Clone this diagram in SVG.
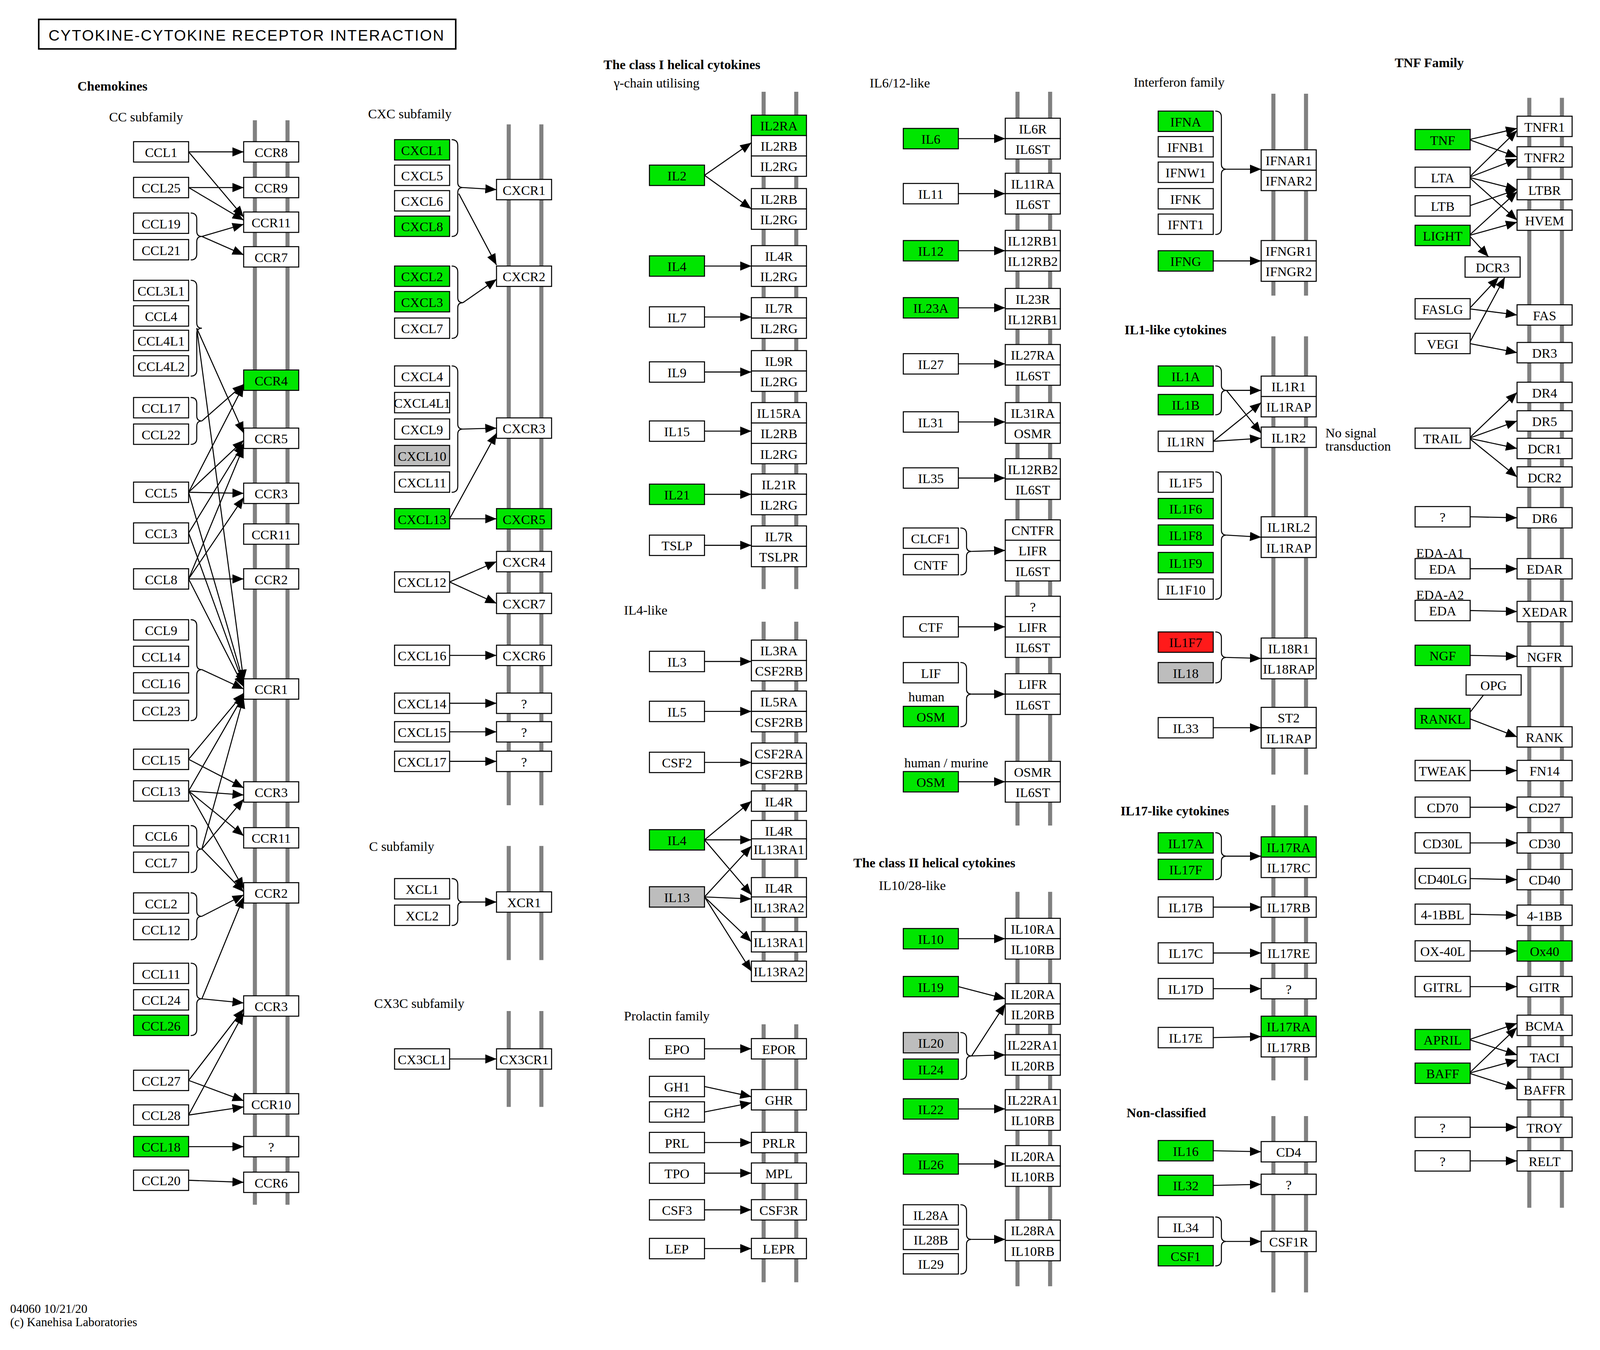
<svg xmlns="http://www.w3.org/2000/svg" xmlns:xlink="http://www.w3.org/1999/xlink" width="4100" height="3457" viewBox="0 0 4100 3457">
<style>
use{fill:#fff;stroke:#000;stroke-width:1}
use.g{fill:#00e600}
use.r{fill:#ff1a1a}
use.y{fill:#bdbdbd}
text{font-family:"Liberation Serif","DejaVu Serif",serif;font-size:13px;fill:#000}
.nd text{text-anchor:middle}
.lb{font-size:13px}
.bd{font-weight:bold}
.bar line{stroke:#808080;stroke-width:4}
.ed path{fill:none;stroke:#000;stroke-width:1;marker-end:url(#a)}
.bk path{fill:none;stroke:#000;stroke-width:1}
</style>
<defs>
<rect id="b" width="54" height="20"/>
<marker id="a" markerWidth="11" markerHeight="9" refX="11" refY="4.5" orient="auto" markerUnits="userSpaceOnUse"><path d="M0,0L11,4.5L0,9z" fill="#000"/></marker>
</defs>
<rect width="4100" height="3457" fill="#fff"/>
<g transform="scale(2.61)">
<g id="title"><rect x="38" y="19" width="409" height="29" fill="#fff" stroke="#000" stroke-width="1.5"/><text x="242" y="40" style="font-family:'Liberation Sans',sans-serif;font-size:15px;letter-spacing:1px;text-anchor:middle">CYTOKINE-CYTOKINE RECEPTOR INTERACTION</text></g>
<g id="labels">
<text x="76" y="89" class="bd">Chemokines</text>
<text x="107" y="119">CC subfamily</text>
<text x="361" y="116">CXC subfamily</text>
<text x="362" y="835">C subfamily</text>
<text x="367" y="989">CX3C subfamily</text>
<text x="592" y="68" class="bd">The class I helical cytokines</text>
<text x="602" y="86">γ-chain utilising</text>
<text x="612" y="603">IL4-like</text>
<text x="612" y="1001">Prolactin family</text>
<text x="853" y="86">IL6/12-like</text>
<text x="891" y="688">human</text>
<text x="887" y="753">human / murine</text>
<text x="837" y="851" class="bd">The class II helical cytokines</text>
<text x="862" y="873">IL10/28-like</text>
<text x="1112" y="85">Interferon family</text>
<text x="1103" y="328" class="bd">IL1-like cytokines</text>
<text x="1300" y="429">No signal</text>
<text x="1300" y="442">transduction</text>
<text x="1099" y="800" class="bd">IL17-like cytokines</text>
<text x="1105" y="1096" class="bd">Non-classified</text>
<text x="1368" y="66" class="bd">TNF Family</text>
<text x="1389" y="547">EDA-A1</text>
<text x="1389" y="588">EDA-A2</text>
<text x="10" y="1288" style="font-size:12px">04060 10/21/20</text>
<text x="10" y="1301" style="font-size:12px">(c) Kanehisa Laboratories</text>
</g>
<g class="bar">
<line x1="250" y1="118" x2="250" y2="1182"/><line x1="282" y1="118" x2="282" y2="1182"/>
<line x1="499" y1="122" x2="499" y2="790"/><line x1="531" y1="122" x2="531" y2="790"/>
<line x1="499" y1="830" x2="499" y2="942"/><line x1="531" y1="830" x2="531" y2="942"/>
<line x1="499" y1="992" x2="499" y2="1086"/><line x1="531" y1="992" x2="531" y2="1086"/>
<line x1="749" y1="90" x2="749" y2="578"/><line x1="781" y1="90" x2="781" y2="578"/>
<line x1="749" y1="610" x2="749" y2="962"/><line x1="781" y1="610" x2="781" y2="962"/>
<line x1="749" y1="1005" x2="749" y2="1258"/><line x1="781" y1="1005" x2="781" y2="1258"/>
<line x1="998" y1="90" x2="998" y2="810"/><line x1="1030" y1="90" x2="1030" y2="810"/>
<line x1="998" y1="875" x2="998" y2="1262"/><line x1="1030" y1="875" x2="1030" y2="1262"/>
<line x1="1249" y1="92" x2="1249" y2="290"/><line x1="1281" y1="92" x2="1281" y2="290"/>
<line x1="1249" y1="330" x2="1249" y2="760"/><line x1="1281" y1="330" x2="1281" y2="760"/>
<line x1="1249" y1="790" x2="1249" y2="1060"/><line x1="1281" y1="790" x2="1281" y2="1060"/>
<line x1="1249" y1="1095" x2="1249" y2="1268"/><line x1="1281" y1="1095" x2="1281" y2="1268"/>
<line x1="1500" y1="96" x2="1500" y2="1185"/><line x1="1532" y1="96" x2="1532" y2="1185"/>
</g>
<g class="bk">
<path d="M187 209Q193 209 193 215V227Q193 232 198 232Q193 232 193 237V249Q193 255 187 255"/>
<path d="M187 275Q193 275 193 281V317Q193 322 198 322Q193 322 193 327V363Q193 369 187 369"/>
<path d="M187 390Q193 390 193 396V408Q193 413 198 413Q193 413 193 418V430Q193 436 187 436"/>
<path d="M187 608Q193 608 193 614V652Q193 657 198 657Q193 657 193 662V701Q193 707 187 707"/>
<path d="M187 810Q193 810 193 816V828Q193 833 198 833Q193 833 193 838V850Q193 856 187 856"/>
<path d="M187 876Q193 876 193 882V894Q193 899 198 899Q193 899 193 904V916Q193 922 187 922"/>
<path d="M187 945Q193 945 193 951V975Q193 980 198 980Q193 980 193 985V1010Q193 1016 187 1016"/>
<path d="M443 137Q449 137 449 143V179Q449 184 454 184Q449 184 449 189V226Q449 232 443 232"/>
<path d="M443 261Q449 261 449 267V292Q449 297 454 297Q449 297 449 302V326Q449 332 443 332"/>
<path d="M443 359Q449 359 449 365V416Q449 421 454 421Q449 421 449 426V477Q449 483 443 483"/>
<path d="M443 862Q449 862 449 868V880Q449 885 454 885Q449 885 449 890V902Q449 908 443 908"/>
<path d="M942 518Q948 518 948 524V536Q948 541 953 541Q948 541 948 546V558Q948 564 942 564"/>
<path d="M942 650Q948 650 948 656V676Q948 681 953 681Q948 681 948 686V707Q948 713 942 713"/>
<path d="M942 1013Q948 1013 948 1019V1031Q948 1036 953 1036Q948 1036 948 1041V1053Q948 1059 942 1059"/>
<path d="M942 1182Q948 1182 948 1188V1211Q948 1216 953 1216Q948 1216 948 1221V1244Q948 1250 942 1250"/>
<path d="M1192 109Q1198 109 1198 115V161Q1198 166 1203 166Q1198 166 1198 171V224Q1198 230 1192 230"/>
<path d="M1192 359Q1198 359 1198 365V378Q1198 383 1203 383Q1198 383 1198 388V401Q1198 407 1192 407"/>
<path d="M1192 463Q1198 463 1198 469V520Q1198 525 1203 525Q1198 525 1198 530V582Q1198 588 1192 588"/>
<path d="M1192 620Q1198 620 1198 626V640Q1198 645 1203 645Q1198 645 1198 650V664Q1198 670 1192 670"/>
<path d="M1192 817Q1198 817 1198 823V835Q1198 840 1203 840Q1198 840 1198 845V857Q1198 863 1192 863"/>
<path d="M1192 1194Q1198 1194 1198 1200V1213Q1198 1218 1203 1218Q1198 1218 1198 1223V1236Q1198 1242 1192 1242"/>
</g>
<g class="ed" id="connectors">
<path d="M185 149L239 149"/><path d="M185 149L239 213"/><path d="M185 184L239 184"/><path d="M185 184L239 216"/>
<path d="M198 232L239 220"/><path d="M198 232L239 250"/><path d="M193 322L239 425"/><path d="M193 322L239 668"/>
<path d="M198 413L239 377"/><path d="M185 483L239 378"/><path d="M185 483L239 432"/><path d="M185 483L239 484"/><path d="M185 483L239 670"/>
<path d="M185 523L239 435"/><path d="M185 523L239 672"/><path d="M185 568L239 438"/><path d="M185 568L239 488"/><path d="M185 568L239 568"/><path d="M185 568L239 674"/>
<path d="M198 657L239 676"/><path d="M185 745L239 680"/><path d="M185 745L239 773"/><path d="M185 776L239 682"/><path d="M185 776L239 780"/><path d="M185 776L239 820"/><path d="M185 776L239 872"/>
<path d="M198 833L239 684"/><path d="M198 833L239 784"/><path d="M198 833L239 875"/><path d="M198 899L239 878"/>
<path d="M198 980L239 984"/><path d="M198 980L239 880"/><path d="M185 1060L239 1080"/><path d="M185 1060L239 990"/><path d="M185 1094L239 1086"/><path d="M185 1094L239 994"/>
<path d="M185 1125L239 1125"/><path d="M185 1158L239 1160"/>
<path d="M454 184L487 186"/><path d="M450 190L487 260"/><path d="M454 297L487 274"/><path d="M454 421L487 420"/>
<path d="M441 509L487 509"/><path d="M441 509L487 425"/><path d="M441 571L487 551"/><path d="M441 571L487 592"/>
<path d="M441 643L487 643"/><path d="M441 690L487 690"/><path d="M441 718L487 718"/><path d="M441 747L487 747"/>
<path d="M454 885L487 885"/><path d="M441 1039L487 1039"/>
<path d="M691 172L737 140"/><path d="M691 172L737 205"/>
<path d="M691 261L737 261"/><path d="M691 311L737 311"/><path d="M691 365L737 365"/><path d="M691 423L737 423"/><path d="M691 485L737 485"/><path d="M691 535L737 535"/>
<path d="M691 649L737 649"/><path d="M691 698L737 698"/><path d="M691 748L737 748"/>
<path d="M691 824L737 786"/><path d="M691 824L737 824"/><path d="M691 824L737 878"/>
<path d="M691 880L737 830"/><path d="M691 880L737 882"/><path d="M691 880L737 924"/><path d="M691 880L737 953"/>
<path d="M691 1029L737 1029"/><path d="M691 1066L737 1076"/><path d="M691 1091L737 1082"/><path d="M691 1121L737 1121"/><path d="M691 1151L737 1151"/><path d="M691 1187L737 1187"/><path d="M691 1225L737 1225"/>
<path d="M940 136L986 136"/><path d="M940 190L986 190"/><path d="M940 246L986 246"/><path d="M940 302L986 302"/><path d="M940 357L986 357"/><path d="M940 414L986 414"/><path d="M940 469L986 469"/>
<path d="M953 541L986 540"/><path d="M940 615L986 615"/><path d="M953 681L986 681"/><path d="M940 767L986 767"/>
<path d="M940 921L986 921"/><path d="M940 968L986 980"/><path d="M953 1036L986 985"/><path d="M953 1036L986 1035"/><path d="M940 1088L986 1088"/><path d="M940 1142L986 1142"/><path d="M953 1216L986 1216"/>
<path d="M1203 166L1237 166"/><path d="M1190 256L1237 256"/>
<path d="M1203 383L1237 383"/><path d="M1203 383L1237 425"/><path d="M1190 433L1237 395"/><path d="M1190 433L1237 430"/>
<path d="M1203 525L1237 527"/><path d="M1203 645L1237 646"/><path d="M1190 714L1237 714"/>
<path d="M1203 840L1237 840"/><path d="M1190 890L1237 890"/><path d="M1190 935L1237 935"/><path d="M1190 970L1237 970"/><path d="M1190 1018L1237 1017"/>
<path d="M1190 1129L1237 1130"/><path d="M1190 1163L1237 1162"/><path d="M1203 1218L1237 1218"/>
<path d="M1441 137L1488 126"/><path d="M1441 137L1488 154"/><path d="M1441 174L1488 128"/><path d="M1441 174L1488 156"/><path d="M1441 174L1488 186"/><path d="M1441 174L1488 216"/>
<path d="M1441 202L1488 186"/><path d="M1441 231L1488 188"/><path d="M1441 231L1488 218"/><path d="M1441 231L1460 252"/>
<path d="M1441 303L1488 309"/><path d="M1441 303L1470 272"/><path d="M1441 337L1488 346"/><path d="M1441 337L1476 272"/>
<path d="M1441 430L1488 385"/><path d="M1441 430L1488 413"/><path d="M1441 430L1488 440"/><path d="M1441 430L1488 468"/>
<path d="M1441 507L1488 508"/><path d="M1441 558L1488 558"/><path d="M1441 599L1488 600"/><path d="M1441 643L1488 644"/>
<path d="M1441 705L1488 723"/><path d="M1441 700L1455 682" style="marker-end:none"/>
<path d="M1441 756L1488 756"/><path d="M1441 792L1488 792"/><path d="M1441 827L1488 827"/><path d="M1441 862L1488 863"/><path d="M1441 897L1488 898"/><path d="M1441 933L1488 933"/><path d="M1441 968L1488 968"/>
<path d="M1441 1020L1488 1004"/><path d="M1441 1020L1488 1035"/><path d="M1441 1053L1488 1008"/><path d="M1441 1053L1488 1040"/><path d="M1441 1053L1488 1068"/>
<path d="M1441 1106L1488 1106"/><path d="M1441 1139L1488 1139"/>
</g>
<g class="nd">
<g id="CCL1"><use href="#b" x="131" y="139"/><text x="158" y="154">CCL1</text></g>
<g id="CCL25"><use href="#b" x="131" y="174"/><text x="158" y="189">CCL25</text></g>
<g id="CCL19"><use href="#b" x="131" y="209"/><text x="158" y="224">CCL19</text></g>
<g id="CCL21"><use href="#b" x="131" y="235"/><text x="158" y="250">CCL21</text></g>
<g id="CCL3L1"><use href="#b" x="131" y="275"/><text x="158" y="290">CCL3L1</text></g>
<g id="CCL4"><use href="#b" x="131" y="300"/><text x="158" y="315">CCL4</text></g>
<g id="CCL4L1"><use href="#b" x="131" y="324"/><text x="158" y="339">CCL4L1</text></g>
<g id="CCL4L2"><use href="#b" x="131" y="349"/><text x="158" y="364">CCL4L2</text></g>
<g id="CCL17"><use href="#b" x="131" y="390"/><text x="158" y="405">CCL17</text></g>
<g id="CCL22"><use href="#b" x="131" y="416"/><text x="158" y="431">CCL22</text></g>
<g id="CCL5"><use href="#b" x="131" y="473"/><text x="158" y="488">CCL5</text></g>
<g id="CCL3"><use href="#b" x="131" y="513"/><text x="158" y="528">CCL3</text></g>
<g id="CCL8"><use href="#b" x="131" y="558"/><text x="158" y="573">CCL8</text></g>
<g id="CCL9"><use href="#b" x="131" y="608"/><text x="158" y="623">CCL9</text></g>
<g id="CCL14"><use href="#b" x="131" y="634"/><text x="158" y="649">CCL14</text></g>
<g id="CCL16"><use href="#b" x="131" y="660"/><text x="158" y="675">CCL16</text></g>
<g id="CCL23"><use href="#b" x="131" y="687"/><text x="158" y="702">CCL23</text></g>
<g id="CCL15"><use href="#b" x="131" y="735"/><text x="158" y="750">CCL15</text></g>
<g id="CCL13"><use href="#b" x="131" y="766"/><text x="158" y="781">CCL13</text></g>
<g id="CCL6"><use href="#b" x="131" y="810"/><text x="158" y="825">CCL6</text></g>
<g id="CCL7"><use href="#b" x="131" y="836"/><text x="158" y="851">CCL7</text></g>
<g id="CCL2"><use href="#b" x="131" y="876"/><text x="158" y="891">CCL2</text></g>
<g id="CCL12"><use href="#b" x="131" y="902"/><text x="158" y="917">CCL12</text></g>
<g id="CCL11"><use href="#b" x="131" y="945"/><text x="158" y="960">CCL11</text></g>
<g id="CCL24"><use href="#b" x="131" y="971"/><text x="158" y="986">CCL24</text></g>
<g id="CCL26"><use href="#b" class="g" x="131" y="996"/><text x="158" y="1011">CCL26</text></g>
<g id="CCL27"><use href="#b" x="131" y="1050"/><text x="158" y="1065">CCL27</text></g>
<g id="CCL28"><use href="#b" x="131" y="1084"/><text x="158" y="1099">CCL28</text></g>
<g id="CCL18"><use href="#b" class="g" x="131" y="1115"/><text x="158" y="1130">CCL18</text></g>
<g id="CCL20"><use href="#b" x="131" y="1148"/><text x="158" y="1163">CCL20</text></g>
<g id="CCR8"><use href="#b" x="239" y="139"/><text x="266" y="154">CCR8</text></g>
<g id="CCR9"><use href="#b" x="239" y="174"/><text x="266" y="189">CCR9</text></g>
<g id="CCR11a"><use href="#b" x="239" y="208"/><text x="266" y="223">CCR11</text></g>
<g id="CCR7"><use href="#b" x="239" y="242"/><text x="266" y="257">CCR7</text></g>
<g id="CCR4"><use href="#b" class="g" x="239" y="363"/><text x="266" y="378">CCR4</text></g>
<g id="CCR5"><use href="#b" x="239" y="420"/><text x="266" y="435">CCR5</text></g>
<g id="CCR3a"><use href="#b" x="239" y="474"/><text x="266" y="489">CCR3</text></g>
<g id="CCR11b"><use href="#b" x="239" y="514"/><text x="266" y="529">CCR11</text></g>
<g id="CCR2a"><use href="#b" x="239" y="558"/><text x="266" y="573">CCR2</text></g>
<g id="CCR1"><use href="#b" x="239" y="666"/><text x="266" y="681">CCR1</text></g>
<g id="CCR3b"><use href="#b" x="239" y="767"/><text x="266" y="782">CCR3</text></g>
<g id="CCR11c"><use href="#b" x="239" y="812"/><text x="266" y="827">CCR11</text></g>
<g id="CCR2b"><use href="#b" x="239" y="866"/><text x="266" y="881">CCR2</text></g>
<g id="CCR3c"><use href="#b" x="239" y="977"/><text x="266" y="992">CCR3</text></g>
<g id="CCR10"><use href="#b" x="239" y="1073"/><text x="266" y="1088">CCR10</text></g>
<g id="CCRq"><use href="#b" x="239" y="1115"/><text x="266" y="1130">?</text></g>
<g id="CCR6"><use href="#b" x="239" y="1150"/><text x="266" y="1165">CCR6</text></g>
<g id="CXCL1"><use href="#b" class="g" x="387" y="137"/><text x="414" y="152">CXCL1</text></g>
<g id="CXCL5"><use href="#b" x="387" y="162"/><text x="414" y="177">CXCL5</text></g>
<g id="CXCL6"><use href="#b" x="387" y="187"/><text x="414" y="202">CXCL6</text></g>
<g id="CXCL8"><use href="#b" class="g" x="387" y="212"/><text x="414" y="227">CXCL8</text></g>
<g id="CXCL2"><use href="#b" class="g" x="387" y="261"/><text x="414" y="276">CXCL2</text></g>
<g id="CXCL3"><use href="#b" class="g" x="387" y="286"/><text x="414" y="301">CXCL3</text></g>
<g id="CXCL7"><use href="#b" x="387" y="312"/><text x="414" y="327">CXCL7</text></g>
<g id="CXCL4"><use href="#b" x="387" y="359"/><text x="414" y="374">CXCL4</text></g>
<g id="CXCL4L1"><use href="#b" x="387" y="385"/><text x="414" y="400">CXCL4L1</text></g>
<g id="CXCL9"><use href="#b" x="387" y="411"/><text x="414" y="426">CXCL9</text></g>
<g id="CXCL10"><use href="#b" class="y" x="387" y="437"/><text x="414" y="452">CXCL10</text></g>
<g id="CXCL11"><use href="#b" x="387" y="463"/><text x="414" y="478">CXCL11</text></g>
<g id="CXCL13"><use href="#b" class="g" x="387" y="499"/><text x="414" y="514">CXCL13</text></g>
<g id="CXCL12"><use href="#b" x="387" y="561"/><text x="414" y="576">CXCL12</text></g>
<g id="CXCL16"><use href="#b" x="387" y="633"/><text x="414" y="648">CXCL16</text></g>
<g id="CXCL14"><use href="#b" x="387" y="680"/><text x="414" y="695">CXCL14</text></g>
<g id="CXCL15"><use href="#b" x="387" y="708"/><text x="414" y="723">CXCL15</text></g>
<g id="CXCL17"><use href="#b" x="387" y="737"/><text x="414" y="752">CXCL17</text></g>
<g id="CXCR1"><use href="#b" x="487" y="176"/><text x="514" y="191">CXCR1</text></g>
<g id="CXCR2"><use href="#b" x="487" y="261"/><text x="514" y="276">CXCR2</text></g>
<g id="CXCR3"><use href="#b" x="487" y="410"/><text x="514" y="425">CXCR3</text></g>
<g id="CXCR5"><use href="#b" class="g" x="487" y="499"/><text x="514" y="514">CXCR5</text></g>
<g id="CXCR4"><use href="#b" x="487" y="541"/><text x="514" y="556">CXCR4</text></g>
<g id="CXCR7"><use href="#b" x="487" y="582"/><text x="514" y="597">CXCR7</text></g>
<g id="CXCR6"><use href="#b" x="487" y="633"/><text x="514" y="648">CXCR6</text></g>
<g id="CXq1"><use href="#b" x="487" y="680"/><text x="514" y="695">?</text></g>
<g id="CXq2"><use href="#b" x="487" y="708"/><text x="514" y="723">?</text></g>
<g id="CXq3"><use href="#b" x="487" y="737"/><text x="514" y="752">?</text></g>
<g id="XCL1"><use href="#b" x="387" y="862"/><text x="414" y="877">XCL1</text></g>
<g id="XCL2"><use href="#b" x="387" y="888"/><text x="414" y="903">XCL2</text></g>
<g id="XCR1"><use href="#b" x="487" y="875"/><text x="514" y="890">XCR1</text></g>
<g id="CX3CL1"><use href="#b" x="387" y="1029"/><text x="414" y="1044">CX3CL1</text></g>
<g id="CX3CR1"><use href="#b" x="487" y="1029"/><text x="514" y="1044">CX3CR1</text></g>
<g id="IL2"><use href="#b" class="g" x="637" y="162"/><text x="664" y="177">IL2</text></g>
<g id="IL4a"><use href="#b" class="g" x="637" y="251"/><text x="664" y="266">IL4</text></g>
<g id="IL7"><use href="#b" x="637" y="301"/><text x="664" y="316">IL7</text></g>
<g id="IL9"><use href="#b" x="637" y="355"/><text x="664" y="370">IL9</text></g>
<g id="IL15"><use href="#b" x="637" y="413"/><text x="664" y="428">IL15</text></g>
<g id="IL21"><use href="#b" class="g" x="637" y="475"/><text x="664" y="490">IL21</text></g>
<g id="TSLP"><use href="#b" x="637" y="525"/><text x="664" y="540">TSLP</text></g>
<g id="IL3"><use href="#b" x="637" y="639"/><text x="664" y="654">IL3</text></g>
<g id="IL5"><use href="#b" x="637" y="688"/><text x="664" y="703">IL5</text></g>
<g id="CSF2"><use href="#b" x="637" y="738"/><text x="664" y="753">CSF2</text></g>
<g id="IL4b"><use href="#b" class="g" x="637" y="814"/><text x="664" y="829">IL4</text></g>
<g id="IL13"><use href="#b" class="y" x="637" y="870"/><text x="664" y="885">IL13</text></g>
<g id="EPO"><use href="#b" x="637" y="1019"/><text x="664" y="1034">EPO</text></g>
<g id="GH1"><use href="#b" x="637" y="1056"/><text x="664" y="1071">GH1</text></g>
<g id="GH2"><use href="#b" x="637" y="1081"/><text x="664" y="1096">GH2</text></g>
<g id="PRL"><use href="#b" x="637" y="1111"/><text x="664" y="1126">PRL</text></g>
<g id="TPO"><use href="#b" x="637" y="1141"/><text x="664" y="1156">TPO</text></g>
<g id="CSF3"><use href="#b" x="637" y="1177"/><text x="664" y="1192">CSF3</text></g>
<g id="LEP"><use href="#b" x="637" y="1215"/><text x="664" y="1230">LEP</text></g>
<g id="IL2R"><use href="#b" class="g" x="737" y="113"/><text x="764" y="128">IL2RA</text><use href="#b" x="737" y="133"/><text x="764" y="148">IL2RB</text><use href="#b" x="737" y="153"/><text x="764" y="168">IL2RG</text></g>
<g id="IL2Rb"><use href="#b" x="737" y="185"/><text x="764" y="200">IL2RB</text><use href="#b" x="737" y="205"/><text x="764" y="220">IL2RG</text></g>
<g id="IL4R1"><use href="#b" x="737" y="241"/><text x="764" y="256">IL4R</text><use href="#b" x="737" y="261"/><text x="764" y="276">IL2RG</text></g>
<g id="IL7R"><use href="#b" x="737" y="292"/><text x="764" y="307">IL7R</text><use href="#b" x="737" y="312"/><text x="764" y="327">IL2RG</text></g>
<g id="IL9R"><use href="#b" x="737" y="344"/><text x="764" y="359">IL9R</text><use href="#b" x="737" y="364"/><text x="764" y="379">IL2RG</text></g>
<g id="IL15R"><use href="#b" x="737" y="395"/><text x="764" y="410">IL15RA</text><use href="#b" x="737" y="415"/><text x="764" y="430">IL2RB</text><use href="#b" x="737" y="435"/><text x="764" y="450">IL2RG</text></g>
<g id="IL21R"><use href="#b" x="737" y="465"/><text x="764" y="480">IL21R</text><use href="#b" x="737" y="485"/><text x="764" y="500">IL2RG</text></g>
<g id="TSLPR"><use href="#b" x="737" y="516"/><text x="764" y="531">IL7R</text><use href="#b" x="737" y="536"/><text x="764" y="551">TSLPR</text></g>
<g id="IL3R"><use href="#b" x="737" y="628"/><text x="764" y="643">IL3RA</text><use href="#b" x="737" y="648"/><text x="764" y="663">CSF2RB</text></g>
<g id="IL5R"><use href="#b" x="737" y="678"/><text x="764" y="693">IL5RA</text><use href="#b" x="737" y="698"/><text x="764" y="713">CSF2RB</text></g>
<g id="CSF2R"><use href="#b" x="737" y="729"/><text x="764" y="744">CSF2RA</text><use href="#b" x="737" y="749"/><text x="764" y="764">CSF2RB</text></g>
<g id="IL4R2"><use href="#b" x="737" y="776"/><text x="764" y="791">IL4R</text></g>
<g id="IL4R3"><use href="#b" x="737" y="805"/><text x="764" y="820">IL4R</text><use href="#b" x="737" y="823"/><text x="764" y="838">IL13RA1</text></g>
<g id="IL4R4"><use href="#b" x="737" y="861"/><text x="764" y="876">IL4R</text><use href="#b" x="737" y="880"/><text x="764" y="895">IL13RA2</text></g>
<g id="IL13RA1"><use href="#b" x="737" y="914"/><text x="764" y="929">IL13RA1</text></g>
<g id="IL13RA2"><use href="#b" x="737" y="943"/><text x="764" y="958">IL13RA2</text></g>
<g id="EPOR"><use href="#b" x="737" y="1019"/><text x="764" y="1034">EPOR</text></g>
<g id="GHR"><use href="#b" x="737" y="1069"/><text x="764" y="1084">GHR</text></g>
<g id="PRLR"><use href="#b" x="737" y="1111"/><text x="764" y="1126">PRLR</text></g>
<g id="MPL"><use href="#b" x="737" y="1141"/><text x="764" y="1156">MPL</text></g>
<g id="CSF3R"><use href="#b" x="737" y="1177"/><text x="764" y="1192">CSF3R</text></g>
<g id="LEPR"><use href="#b" x="737" y="1215"/><text x="764" y="1230">LEPR</text></g>
<g id="IL6"><use href="#b" class="g" x="886" y="126"/><text x="913" y="141">IL6</text></g>
<g id="IL11"><use href="#b" x="886" y="180"/><text x="913" y="195">IL11</text></g>
<g id="IL12"><use href="#b" class="g" x="886" y="236"/><text x="913" y="251">IL12</text></g>
<g id="IL23A"><use href="#b" class="g" x="886" y="292"/><text x="913" y="307">IL23A</text></g>
<g id="IL27"><use href="#b" x="886" y="347"/><text x="913" y="362">IL27</text></g>
<g id="IL31"><use href="#b" x="886" y="404"/><text x="913" y="419">IL31</text></g>
<g id="IL35"><use href="#b" x="886" y="459"/><text x="913" y="474">IL35</text></g>
<g id="CLCF1"><use href="#b" x="886" y="518"/><text x="913" y="533">CLCF1</text></g>
<g id="CNTF"><use href="#b" x="886" y="544"/><text x="913" y="559">CNTF</text></g>
<g id="CTF"><use href="#b" x="886" y="605"/><text x="913" y="620">CTF</text></g>
<g id="LIF"><use href="#b" x="886" y="650"/><text x="913" y="665">LIF</text></g>
<g id="OSMa"><use href="#b" class="g" x="886" y="693"/><text x="913" y="708">OSM</text></g>
<g id="OSMb"><use href="#b" class="g" x="886" y="757"/><text x="913" y="772">OSM</text></g>
<g id="IL10"><use href="#b" class="g" x="886" y="911"/><text x="913" y="926">IL10</text></g>
<g id="IL19"><use href="#b" class="g" x="886" y="958"/><text x="913" y="973">IL19</text></g>
<g id="IL20"><use href="#b" class="y" x="886" y="1013"/><text x="913" y="1028">IL20</text></g>
<g id="IL24"><use href="#b" class="g" x="886" y="1039"/><text x="913" y="1054">IL24</text></g>
<g id="IL22"><use href="#b" class="g" x="886" y="1078"/><text x="913" y="1093">IL22</text></g>
<g id="IL26"><use href="#b" class="g" x="886" y="1132"/><text x="913" y="1147">IL26</text></g>
<g id="IL28A"><use href="#b" x="886" y="1182"/><text x="913" y="1197">IL28A</text></g>
<g id="IL28B"><use href="#b" x="886" y="1206"/><text x="913" y="1221">IL28B</text></g>
<g id="IL29"><use href="#b" x="886" y="1230"/><text x="913" y="1245">IL29</text></g>
<g id="IL6R"><use href="#b" x="986" y="116"/><text x="1013" y="131">IL6R</text><use href="#b" x="986" y="136"/><text x="1013" y="151">IL6ST</text></g>
<g id="IL11R"><use href="#b" x="986" y="170"/><text x="1013" y="185">IL11RA</text><use href="#b" x="986" y="190"/><text x="1013" y="205">IL6ST</text></g>
<g id="IL12R"><use href="#b" x="986" y="226"/><text x="1013" y="241">IL12RB1</text><use href="#b" x="986" y="246"/><text x="1013" y="261">IL12RB2</text></g>
<g id="IL23R"><use href="#b" x="986" y="283"/><text x="1013" y="298">IL23R</text><use href="#b" x="986" y="303"/><text x="1013" y="318">IL12RB1</text></g>
<g id="IL27R"><use href="#b" x="986" y="338"/><text x="1013" y="353">IL27RA</text><use href="#b" x="986" y="358"/><text x="1013" y="373">IL6ST</text></g>
<g id="IL31R"><use href="#b" x="986" y="395"/><text x="1013" y="410">IL31RA</text><use href="#b" x="986" y="415"/><text x="1013" y="430">OSMR</text></g>
<g id="IL35R"><use href="#b" x="986" y="450"/><text x="1013" y="465">IL12RB2</text><use href="#b" x="986" y="470"/><text x="1013" y="485">IL6ST</text></g>
<g id="CNTFR"><use href="#b" x="986" y="510"/><text x="1013" y="525">CNTFR</text><use href="#b" x="986" y="530"/><text x="1013" y="545">LIFR</text><use href="#b" x="986" y="550"/><text x="1013" y="565">IL6ST</text></g>
<g id="CTFR"><use href="#b" x="986" y="585"/><text x="1013" y="600">?</text><use href="#b" x="986" y="605"/><text x="1013" y="620">LIFR</text><use href="#b" x="986" y="625"/><text x="1013" y="640">IL6ST</text></g>
<g id="LIFR"><use href="#b" x="986" y="661"/><text x="1013" y="676">LIFR</text><use href="#b" x="986" y="681"/><text x="1013" y="696">IL6ST</text></g>
<g id="OSMR"><use href="#b" x="986" y="747"/><text x="1013" y="762">OSMR</text><use href="#b" x="986" y="767"/><text x="1013" y="782">IL6ST</text></g>
<g id="IL10R"><use href="#b" x="986" y="901"/><text x="1013" y="916">IL10RA</text><use href="#b" x="986" y="921"/><text x="1013" y="936">IL10RB</text></g>
<g id="IL20R"><use href="#b" x="986" y="965"/><text x="1013" y="980">IL20RA</text><use href="#b" x="986" y="985"/><text x="1013" y="1000">IL20RB</text></g>
<g id="IL22R1"><use href="#b" x="986" y="1015"/><text x="1013" y="1030">IL22RA1</text><use href="#b" x="986" y="1035"/><text x="1013" y="1050">IL20RB</text></g>
<g id="IL22R2"><use href="#b" x="986" y="1069"/><text x="1013" y="1084">IL22RA1</text><use href="#b" x="986" y="1089"/><text x="1013" y="1104">IL10RB</text></g>
<g id="IL26R"><use href="#b" x="986" y="1124"/><text x="1013" y="1139">IL20RA</text><use href="#b" x="986" y="1144"/><text x="1013" y="1159">IL10RB</text></g>
<g id="IL28R"><use href="#b" x="986" y="1197"/><text x="1013" y="1212">IL28RA</text><use href="#b" x="986" y="1217"/><text x="1013" y="1232">IL10RB</text></g>
<g id="IFNA"><use href="#b" class="g" x="1136" y="109"/><text x="1163" y="124">IFNA</text></g>
<g id="IFNB1"><use href="#b" x="1136" y="134"/><text x="1163" y="149">IFNB1</text></g>
<g id="IFNW1"><use href="#b" x="1136" y="159"/><text x="1163" y="174">IFNW1</text></g>
<g id="IFNK"><use href="#b" x="1136" y="185"/><text x="1163" y="200">IFNK</text></g>
<g id="IFNT1"><use href="#b" x="1136" y="210"/><text x="1163" y="225">IFNT1</text></g>
<g id="IFNG"><use href="#b" class="g" x="1136" y="246"/><text x="1163" y="261">IFNG</text></g>
<g id="IL1A"><use href="#b" class="g" x="1136" y="359"/><text x="1163" y="374">IL1A</text></g>
<g id="IL1B"><use href="#b" class="g" x="1136" y="387"/><text x="1163" y="402">IL1B</text></g>
<g id="IL1RN"><use href="#b" x="1136" y="423"/><text x="1163" y="438">IL1RN</text></g>
<g id="IL1F5"><use href="#b" x="1136" y="463"/><text x="1163" y="478">IL1F5</text></g>
<g id="IL1F6"><use href="#b" class="g" x="1136" y="489"/><text x="1163" y="504">IL1F6</text></g>
<g id="IL1F8"><use href="#b" class="g" x="1136" y="515"/><text x="1163" y="530">IL1F8</text></g>
<g id="IL1F9"><use href="#b" class="g" x="1136" y="542"/><text x="1163" y="557">IL1F9</text></g>
<g id="IL1F10"><use href="#b" x="1136" y="568"/><text x="1163" y="583">IL1F10</text></g>
<g id="IL1F7"><use href="#b" class="r" x="1136" y="620"/><text x="1163" y="635">IL1F7</text></g>
<g id="IL18"><use href="#b" class="y" x="1136" y="650"/><text x="1163" y="665">IL18</text></g>
<g id="IL33"><use href="#b" x="1136" y="704"/><text x="1163" y="719">IL33</text></g>
<g id="IL17A"><use href="#b" class="g" x="1136" y="817"/><text x="1163" y="832">IL17A</text></g>
<g id="IL17F"><use href="#b" class="g" x="1136" y="843"/><text x="1163" y="858">IL17F</text></g>
<g id="IL17B"><use href="#b" x="1136" y="880"/><text x="1163" y="895">IL17B</text></g>
<g id="IL17C"><use href="#b" x="1136" y="925"/><text x="1163" y="940">IL17C</text></g>
<g id="IL17D"><use href="#b" x="1136" y="960"/><text x="1163" y="975">IL17D</text></g>
<g id="IL17E"><use href="#b" x="1136" y="1008"/><text x="1163" y="1023">IL17E</text></g>
<g id="IL16"><use href="#b" class="g" x="1136" y="1119"/><text x="1163" y="1134">IL16</text></g>
<g id="IL32"><use href="#b" class="g" x="1136" y="1153"/><text x="1163" y="1168">IL32</text></g>
<g id="IL34"><use href="#b" x="1136" y="1194"/><text x="1163" y="1209">IL34</text></g>
<g id="CSF1"><use href="#b" class="g" x="1136" y="1222"/><text x="1163" y="1237">CSF1</text></g>
<g id="IFNAR"><use href="#b" x="1237" y="147"/><text x="1264" y="162">IFNAR1</text><use href="#b" x="1237" y="167"/><text x="1264" y="182">IFNAR2</text></g>
<g id="IFNGR"><use href="#b" x="1237" y="236"/><text x="1264" y="251">IFNGR1</text><use href="#b" x="1237" y="256"/><text x="1264" y="271">IFNGR2</text></g>
<g id="IL1R1"><use href="#b" x="1237" y="369"/><text x="1264" y="384">IL1R1</text><use href="#b" x="1237" y="389"/><text x="1264" y="404">IL1RAP</text></g>
<g id="IL1R2"><use href="#b" x="1237" y="419"/><text x="1264" y="434">IL1R2</text></g>
<g id="IL1RL2"><use href="#b" x="1237" y="507"/><text x="1264" y="522">IL1RL2</text><use href="#b" x="1237" y="527"/><text x="1264" y="542">IL1RAP</text></g>
<g id="IL18R"><use href="#b" x="1237" y="626"/><text x="1264" y="641">IL18R1</text><use href="#b" x="1237" y="646"/><text x="1264" y="661">IL18RAP</text></g>
<g id="ST2"><use href="#b" x="1237" y="694"/><text x="1264" y="709">ST2</text><use href="#b" x="1237" y="714"/><text x="1264" y="729">IL1RAP</text></g>
<g id="IL17RA1"><use href="#b" class="g" x="1237" y="821"/><text x="1264" y="836">IL17RA</text><use href="#b" x="1237" y="841"/><text x="1264" y="856">IL17RC</text></g>
<g id="IL17RB"><use href="#b" x="1237" y="880"/><text x="1264" y="895">IL17RB</text></g>
<g id="IL17RE"><use href="#b" x="1237" y="925"/><text x="1264" y="940">IL17RE</text></g>
<g id="IL17Rq"><use href="#b" x="1237" y="960"/><text x="1264" y="975">?</text></g>
<g id="IL17RA2"><use href="#b" class="g" x="1237" y="997"/><text x="1264" y="1012">IL17RA</text><use href="#b" x="1237" y="1017"/><text x="1264" y="1032">IL17RB</text></g>
<g id="CD4"><use href="#b" x="1237" y="1120"/><text x="1264" y="1135">CD4</text></g>
<g id="IL32R"><use href="#b" x="1237" y="1152"/><text x="1264" y="1167">?</text></g>
<g id="CSF1R"><use href="#b" x="1237" y="1208"/><text x="1264" y="1223">CSF1R</text></g>
<g id="TNF"><use href="#b" class="g" x="1388" y="127"/><text x="1415" y="142">TNF</text></g>
<g id="LTA"><use href="#b" x="1388" y="164"/><text x="1415" y="179">LTA</text></g>
<g id="LTB"><use href="#b" x="1388" y="192"/><text x="1415" y="207">LTB</text></g>
<g id="LIGHT"><use href="#b" class="g" x="1388" y="221"/><text x="1415" y="236">LIGHT</text></g>
<g id="FASLG"><use href="#b" x="1388" y="293"/><text x="1415" y="308">FASLG</text></g>
<g id="VEGI"><use href="#b" x="1388" y="327"/><text x="1415" y="342">VEGI</text></g>
<g id="TRAIL"><use href="#b" x="1388" y="420"/><text x="1415" y="435">TRAIL</text></g>
<g id="TNFq1"><use href="#b" x="1388" y="497"/><text x="1415" y="512">?</text></g>
<g id="EDA1"><use href="#b" x="1388" y="548"/><text x="1415" y="563">EDA</text></g>
<g id="EDA2"><use href="#b" x="1388" y="589"/><text x="1415" y="604">EDA</text></g>
<g id="NGF"><use href="#b" class="g" x="1388" y="633"/><text x="1415" y="648">NGF</text></g>
<g id="OPG"><use href="#b" x="1438" y="662"/><text x="1465" y="677">OPG</text></g>
<g id="RANKL"><use href="#b" class="g" x="1388" y="695"/><text x="1415" y="710">RANKL</text></g>
<g id="TWEAK"><use href="#b" x="1388" y="746"/><text x="1415" y="761">TWEAK</text></g>
<g id="CD70"><use href="#b" x="1388" y="782"/><text x="1415" y="797">CD70</text></g>
<g id="CD30L"><use href="#b" x="1388" y="817"/><text x="1415" y="832">CD30L</text></g>
<g id="CD40LG"><use href="#b" x="1388" y="852"/><text x="1415" y="867">CD40LG</text></g>
<g id="4-1BBL"><use href="#b" x="1388" y="887"/><text x="1415" y="902">4-1BBL</text></g>
<g id="OX-40L"><use href="#b" x="1388" y="923"/><text x="1415" y="938">OX-40L</text></g>
<g id="GITRL"><use href="#b" x="1388" y="958"/><text x="1415" y="973">GITRL</text></g>
<g id="APRIL"><use href="#b" class="g" x="1388" y="1010"/><text x="1415" y="1025">APRIL</text></g>
<g id="BAFF"><use href="#b" class="g" x="1388" y="1043"/><text x="1415" y="1058">BAFF</text></g>
<g id="TNFq2"><use href="#b" x="1388" y="1096"/><text x="1415" y="1111">?</text></g>
<g id="TNFq3"><use href="#b" x="1388" y="1129"/><text x="1415" y="1144">?</text></g>
<g id="TNFR1"><use href="#b" x="1488" y="114"/><text x="1515" y="129">TNFR1</text></g>
<g id="TNFR2"><use href="#b" x="1488" y="144"/><text x="1515" y="159">TNFR2</text></g>
<g id="LTBR"><use href="#b" x="1488" y="176"/><text x="1515" y="191">LTBR</text></g>
<g id="HVEM"><use href="#b" x="1488" y="206"/><text x="1515" y="221">HVEM</text></g>
<g id="DCR3"><use href="#b" x="1437" y="252"/><text x="1464" y="267">DCR3</text></g>
<g id="FAS"><use href="#b" x="1488" y="299"/><text x="1515" y="314">FAS</text></g>
<g id="DR3"><use href="#b" x="1488" y="336"/><text x="1515" y="351">DR3</text></g>
<g id="DR4"><use href="#b" x="1488" y="375"/><text x="1515" y="390">DR4</text></g>
<g id="DR5"><use href="#b" x="1488" y="403"/><text x="1515" y="418">DR5</text></g>
<g id="DCR1"><use href="#b" x="1488" y="430"/><text x="1515" y="445">DCR1</text></g>
<g id="DCR2"><use href="#b" x="1488" y="458"/><text x="1515" y="473">DCR2</text></g>
<g id="DR6"><use href="#b" x="1488" y="498"/><text x="1515" y="513">DR6</text></g>
<g id="EDAR"><use href="#b" x="1488" y="548"/><text x="1515" y="563">EDAR</text></g>
<g id="XEDAR"><use href="#b" x="1488" y="590"/><text x="1515" y="605">XEDAR</text></g>
<g id="NGFR"><use href="#b" x="1488" y="634"/><text x="1515" y="649">NGFR</text></g>
<g id="RANK"><use href="#b" x="1488" y="713"/><text x="1515" y="728">RANK</text></g>
<g id="FN14"><use href="#b" x="1488" y="746"/><text x="1515" y="761">FN14</text></g>
<g id="CD27"><use href="#b" x="1488" y="782"/><text x="1515" y="797">CD27</text></g>
<g id="CD30"><use href="#b" x="1488" y="817"/><text x="1515" y="832">CD30</text></g>
<g id="CD40"><use href="#b" x="1488" y="853"/><text x="1515" y="868">CD40</text></g>
<g id="4-1BB"><use href="#b" x="1488" y="888"/><text x="1515" y="903">4-1BB</text></g>
<g id="Ox40"><use href="#b" class="g" x="1488" y="923"/><text x="1515" y="938">Ox40</text></g>
<g id="GITR"><use href="#b" x="1488" y="958"/><text x="1515" y="973">GITR</text></g>
<g id="BCMA"><use href="#b" x="1488" y="996"/><text x="1515" y="1011">BCMA</text></g>
<g id="TACI"><use href="#b" x="1488" y="1027"/><text x="1515" y="1042">TACI</text></g>
<g id="BAFFR"><use href="#b" x="1488" y="1059"/><text x="1515" y="1074">BAFFR</text></g>
<g id="TROY"><use href="#b" x="1488" y="1096"/><text x="1515" y="1111">TROY</text></g>
<g id="RELT"><use href="#b" x="1488" y="1129"/><text x="1515" y="1144">RELT</text></g>
</g>
</g>
</svg>
